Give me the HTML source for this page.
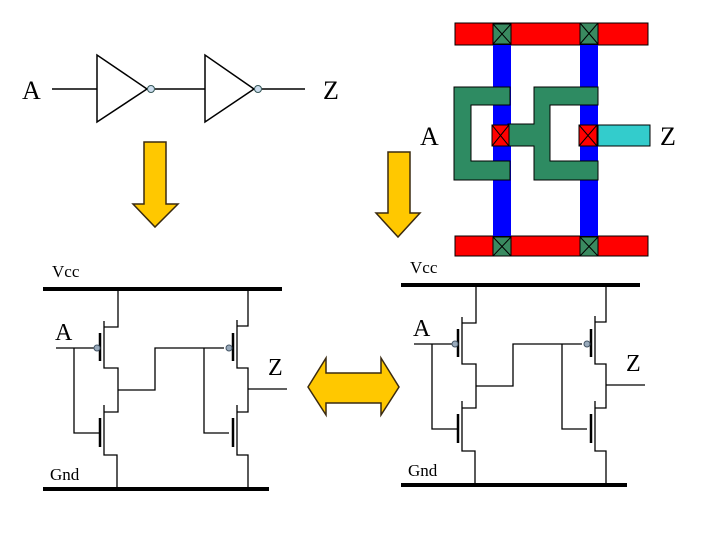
<!DOCTYPE html>
<html><head><style>body{margin:0;background:#fff}svg{display:block}text{font-family:"Liberation Serif",serif}</style></head><body>
<svg width="720" height="540" viewBox="0 0 720 540" xmlns="http://www.w3.org/2000/svg">
<!-- inverter chain -->
<text x="22" y="99" font-size="26">A</text>
<g stroke="#000" stroke-width="1.5" fill="none">
<line x1="52" y1="89" x2="97" y2="89"/>
<polygon points="97,55 97,122 147,89" fill="#fff"/>
<line x1="155" y1="89" x2="205" y2="89"/>
<polygon points="205,55 205,122 254,89" fill="#fff"/>
<line x1="262" y1="89" x2="305" y2="89"/>
</g>
<circle cx="151" cy="89" r="3.5" fill="#cde" stroke="#355" stroke-width="1"/>
<circle cx="258" cy="89" r="3.5" fill="#cde" stroke="#355" stroke-width="1"/>
<text x="323" y="99" font-size="26">Z</text>
<!-- down arrows -->
<g fill="#ffc800" stroke="#3a2a10" stroke-width="1.5">
<polygon points="144,142 166,142 166,204 178,204 155,227 133,204 144,204"/>
<polygon points="388,152 410,152 410,213 420,213 398,237 376,213 388,213"/>
<polygon points="308,387 326,358 326,373 381,373 381,358 399,387 381,415 381,403 326,403 326,415"/>
</g>
<!-- layout -->
<g stroke="#000" stroke-width="1">
<rect x="455" y="23" width="193" height="22" fill="#f00"/>
<rect x="455" y="236" width="193" height="20" fill="#f00"/>
<rect x="493" y="45" width="18" height="191" fill="#00f" stroke="none"/>
<rect x="580" y="45" width="18" height="191" fill="#00f" stroke="none"/>
<path d="M454,87 H510 V105 H471 V161 H510 V180 H454 Z" fill="#2e8b62"/>
<path d="M534,87 H598 V105 H550 V161 H598 V180 H534 V146 H508 V124 H534 Z" fill="#2e8b62"/>
<rect x="598" y="125" width="52" height="21" fill="#33cccc"/>
<rect x="492" y="125" width="17" height="21" fill="#f00"/>
<rect x="579" y="125" width="18" height="21" fill="#f00"/>
<rect x="493" y="24" width="18" height="20" fill="#3a8a60"/>
<rect x="580" y="23" width="18" height="21" fill="#3a8a60"/>
<rect x="493" y="237" width="18" height="19" fill="#3a8a60"/>
<rect x="580" y="237" width="18" height="19" fill="#3a8a60"/>
<path d="M493,24 L511,44 M511,24 L493,44 M580,23 L598,44 M598,23 L580,44 M493,237 L511,256 M511,237 L493,256 M580,237 L598,256 M598,237 L580,256 M492,125 L509,146 M509,125 L492,146 M579,125 L597,146 M597,125 L579,146" fill="none"/>
</g>
<text x="420" y="145" font-size="26">A</text>
<text x="660" y="145" font-size="26">Z</text>
<!-- circuits -->
<g id="c">
<text x="52" y="277" font-size="17">Vcc</text>
<text x="50" y="480" font-size="17">Gnd</text>
<text x="55" y="340" font-size="24">A</text>
<text x="268" y="375" font-size="24">Z</text>
<line x1="43" y1="289" x2="282" y2="289" stroke="#000" stroke-width="4"/>
<line x1="43" y1="489" x2="269" y2="489" stroke="#000" stroke-width="4"/>
<g stroke="#000" stroke-width="1.3" fill="none">
<path d="M118,289 V327 H104 M104,321 V368 H118 V412 H104 M104,405 V455 H117 V489"/>
<path d="M56,348 H94 M74,348 V433 H100"/>
<path d="M118,390 H155 V348 H224 M204,348 V433 H229"/>
<path d="M248,289 V326 H237 M237,320 V368 H248 V412 H237 M237,405 V455 H248 V489 M248,389 H287"/>
</g>
<g stroke="#000" stroke-width="2.5">
<line x1="100" y1="333" x2="100" y2="361"/><line x1="100" y1="418" x2="100" y2="447"/>
<line x1="233" y1="333" x2="233" y2="361"/><line x1="233" y1="418" x2="233" y2="447"/>
</g>
<circle cx="97" cy="348" r="3" fill="#9ab" stroke="#456"/>
<circle cx="229" cy="348" r="3" fill="#9ab" stroke="#456"/>
</g>
<use href="#c" transform="translate(358,-4)"/>
</svg>
</body></html>
